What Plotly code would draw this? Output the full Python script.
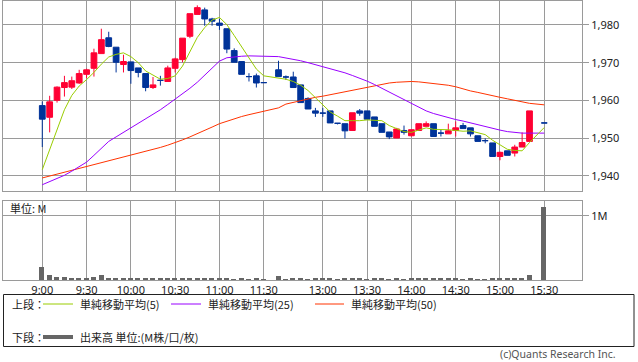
import plotly.graph_objects as go

# 5-minute slot index (9:00 = 0, lunch compressed; 31 and 67 have no trades)
slots = list(range(0, 31)) + list(range(32, 67)) + [68]

opens = [1958.6, 1955.5, 1960.0, 1963.4, 1963.5, 1964.6, 1966.9, 1968.5, 1972.4, 1976.6,
         1974.1, 1969.5, 1970.2, 1968.6, 1967.1, 1963.4, 1965.3, 1965.0, 1968.5, 1970.8,
         1977.0, 1982.8, 1984.0, 1981.6, 1980.5, 1979.0, 1973.2, 1970.3, 1966.3, 1966.5,
         1964.7,
         1968.1, 1966.2, 1966.2, 1964.1, 1960.5, 1957.2, 1956.6, 1957.2, 1953.9, 1953.8,
         1952.0, 1957.2, 1957.2, 1955.6, 1953.8, 1951.6, 1950.0, 1952.0, 1950.6, 1952.0,
         1953.1, 1953.8, 1951.3, 1951.1, 1952.0, 1953.3, 1952.7, 1950.6, 1949.3, 1948.7,
         1945.1, 1946.6, 1946.0, 1947.6, 1949.1,
         1954.0]
highs = [1959.7, 1961.2, 1963.7, 1966.5, 1966.3, 1968.1, 1968.4, 1973.7, 1979.0, 1978.2,
         1974.1, 1972.1, 1970.2, 1968.6, 1967.1, 1966.2, 1966.5, 1969.2, 1971.3, 1976.5,
         1983.0, 1985.2, 1984.6, 1981.9, 1981.6, 1979.0, 1973.8, 1970.3, 1967.2, 1967.1,
         1964.7,
         1970.5, 1966.6, 1967.6, 1964.1, 1960.8, 1958.0, 1958.0, 1957.2, 1953.9, 1953.8,
         1956.7, 1957.7, 1957.2, 1955.6, 1953.8, 1951.6, 1952.7, 1953.3, 1952.2, 1953.8,
         1954.4, 1953.8, 1952.2, 1953.8, 1954.4, 1954.0, 1952.7, 1950.6, 1949.9, 1948.7,
         1946.4, 1946.6, 1948.2, 1951.5, 1957.2,
         1954.0]
lows = [1947.6, 1951.5, 1959.4, 1961.0, 1963.0, 1964.4, 1965.9, 1966.3, 1972.4, 1974.1,
        1967.4, 1967.4, 1964.4, 1966.1, 1962.4, 1963.0, 1963.9, 1965.0, 1967.4, 1970.1,
        1976.5, 1982.8, 1979.8, 1979.8, 1978.7, 1972.5, 1970.1, 1966.9, 1965.0, 1963.4,
        1964.7,
        1966.3, 1965.4, 1963.4, 1959.4, 1957.7, 1955.6, 1955.6, 1954.0, 1953.6, 1949.9,
        1952.0, 1955.9, 1955.0, 1953.1, 1951.5, 1949.7, 1950.0, 1950.9, 1950.4, 1952.0,
        1953.1, 1950.4, 1950.4, 1951.1, 1950.4, 1952.5, 1950.4, 1949.1, 1948.6, 1945.1,
        1944.1, 1945.4, 1945.1, 1947.6, 1949.1,
        1954.0]
closes = [1955.0, 1959.6, 1963.5, 1964.7, 1965.2, 1967.1, 1968.1, 1972.6, 1976.1, 1974.3,
          1970.1, 1970.3, 1967.9, 1967.4, 1963.4, 1964.1, 1965.3, 1968.6, 1971.0, 1976.5,
          1983.0, 1984.6, 1981.6, 1981.0, 1979.9, 1973.6, 1970.1, 1966.9, 1966.3, 1964.6,
          1964.7,
          1966.3, 1966.2, 1963.4, 1959.4, 1957.7, 1956.6, 1956.6, 1954.0, 1953.9, 1951.9,
          1956.7, 1956.6, 1955.0, 1953.1, 1951.5, 1950.3, 1952.4, 1951.5, 1952.2, 1953.8,
          1953.8, 1950.4, 1951.3, 1951.9, 1952.7, 1952.5, 1951.1, 1949.1, 1949.3, 1945.1,
          1946.2, 1945.4, 1947.6, 1948.8, 1957.2,
          1954.0]
volumes_m = [0.208, 0.078, 0.052, 0.047, 0.031, 0.031, 0.016, 0.047, 0.078, 0.016,
             0.016, 0.031, 0.031, 0.016, 0.016, 0.016, 0.016, 0.016, 0.016, 0.016,
             0.031, 0.016, 0.016, 0.016, 0.016, 0.016, 0.005, 0.016, 0.005, 0.016,
             0.005,
             0.062, 0.005, 0.016, 0.016, 0.005, 0.016, 0.016, 0.016, 0.005, 0.031,
             0.016, 0.016, 0.005, 0.016, 0.016, 0.005, 0.016, 0.005, 0.016, 0.016,
             0.016, 0.031, 0.016, 0.016, 0.016, 0.005, 0.016, 0.005, 0.005, 0.031,
             0.031, 0.016, 0.031, 0.031, 0.078,
             1.14]
ma5 = [1941.6, 1946.9, 1952.7, 1957.5, 1961.3, 1963.8, 1965.5, 1967.4, 1969.6, 1971.5,
       1972.2, 1972.6, 1971.6, 1970.0, 1967.8, 1966.6, 1965.6, 1965.8, 1966.5, 1969.1,
       1972.9, 1976.7, 1979.3, 1981.3, 1982.0, 1980.1, 1977.2, 1974.3, 1971.4, 1968.3,
       1966.5,
       1965.8, 1965.6, 1965.0, 1964.0, 1962.6, 1960.7, 1958.7, 1956.9, 1955.8, 1954.6,
       1954.6, 1954.6, 1954.8, 1954.7, 1954.6, 1953.3, 1952.4, 1951.7, 1951.5, 1952.0,
       1952.7, 1952.3, 1952.3, 1952.2, 1952.0, 1951.8, 1951.9, 1951.5, 1950.9, 1949.4,
       1948.2, 1947.0, 1946.7, 1946.6, 1948.8,
       1952.8]
ma25 = [1937.6, 1938.4, 1939.3, 1940.1, 1941.2, 1942.4, 1943.6, 1945.4, 1947.3, 1949.1,
        1950.3, 1951.5, 1952.7, 1953.8, 1955.0, 1956.2, 1957.5, 1958.9, 1960.3, 1961.6,
        1963.2, 1964.8, 1966.6, 1968.6, 1970.4, 1971.3, 1971.6, 1971.7, 1971.8, 1971.8,
        1971.7,
        1971.6, 1971.3, 1970.9, 1970.5, 1970.0, 1969.5, 1969.0, 1968.5, 1967.9, 1967.3,
        1966.6, 1965.9, 1965.1, 1964.2, 1963.2, 1962.2, 1961.2, 1960.1, 1959.0, 1958.1,
        1957.2, 1956.5, 1955.9, 1955.4, 1954.9, 1954.5, 1954.0, 1953.5, 1953.0, 1952.5,
        1952.1, 1951.7, 1951.5, 1951.3, 1951.3,
        1951.3]
ma50 = [1939.4, 1939.9, 1940.4, 1940.9, 1941.4, 1941.9, 1942.4, 1942.9, 1943.4, 1943.9,
        1944.4, 1944.9, 1945.4, 1945.9, 1946.4, 1946.9, 1947.5, 1948.1, 1948.7, 1949.5,
        1950.3, 1951.1, 1952.0, 1952.9, 1953.8, 1954.5, 1955.1, 1955.7, 1956.2, 1956.7,
        1957.1,
        1958.0, 1959.0, 1959.5, 1960.0, 1960.5, 1960.8, 1961.1, 1961.5, 1961.9, 1962.3,
        1962.7, 1963.1, 1963.6, 1964.0, 1964.3, 1964.6, 1964.8, 1965.0, 1965.0, 1964.9,
        1964.7, 1964.5, 1964.3, 1964.0, 1963.6, 1963.0, 1962.5, 1962.1, 1961.6, 1961.1,
        1960.8, 1960.4, 1960.0, 1959.6, 1959.2,
        1958.8]

tick_slots = [0, 6, 12, 18, 24, 30, 38, 44, 50, 56, 62, 68]
tick_labels = ["9:00", "9:30", "10:00", "10:30", "11:00", "11:30",
               "13:00", "13:30", "14:00", "14:30", "15:00", "15:30"]
price_ticks = [1940, 1950, 1960, 1970, 1980]

RED = "#ff0033"
BLUE = "#003399"
GRID = "#9a9a9a"
W, H = 638, 362

def px_x(p):
    return p / W

def px_y(p):
    return (H - p) / H

up = [i for i in range(len(slots)) if closes[i] > opens[i]]
dn = [i for i in range(len(slots)) if closes[i] <= opens[i]]

def pick(arr, idx):
    return [arr[i] for i in idx]

fig = go.Figure()
for idx, col in ((up, RED), (dn, BLUE)):
    fig.add_trace(go.Candlestick(
        x=pick(slots, idx), open=pick(opens, idx), high=pick(highs, idx),
        low=pick(lows, idx), close=pick(closes, idx),
        increasing=dict(line=dict(color=col, width=1), fillcolor=col),
        decreasing=dict(line=dict(color=col, width=1), fillcolor=col),
        whiskerwidth=0, showlegend=False, hoverinfo="skip",
        xaxis="x", yaxis="y"))

for vals, col in ((ma50, "#ff3300"), (ma25, "#9900ff"), (ma5, "#99cc00")):
    fig.add_trace(go.Scatter(x=slots, y=vals, mode="lines",
                             line=dict(color=col, width=1),
                             showlegend=False, hoverinfo="skip",
                             xaxis="x", yaxis="y"))

fig.add_trace(go.Bar(x=slots, y=volumes_m, marker=dict(color="#666666", line=dict(width=0)),
                     width=0.68, showlegend=False, hoverinfo="skip",
                     xaxis="x2", yaxis="y2"))

xr = [-5.28, 73.11]
xdom = [px_x(3.3), px_x(582)]
tickfont = dict(family="Noto Sans", size=11, color="#222222")

common_x = dict(range=xr, domain=xdom, showgrid=True, gridcolor=GRID, gridwidth=1,
                tickvals=tick_slots, ticktext=tick_labels, zeroline=False,
                showline=True, mirror=True, linecolor=GRID, linewidth=1,
                fixedrange=True)

fig.update_layout(
    width=W, height=H,
    margin=dict(l=0, r=0, t=0, b=0),
    paper_bgcolor="white", plot_bgcolor="white",
    boxmode="overlay", boxgap=0.22, boxgroupgap=0,
    bargap=0,
    font=dict(family="Noto Sans CJK JP", size=11, color="#222222"),
    xaxis=dict(**common_x, anchor="y", showticklabels=False,
               rangeslider=dict(visible=False)),
    yaxis=dict(domain=[px_y(190.5), px_y(1)], range=[1936.07, 1986.36],
               side="right", anchor="x", tickvals=price_ticks, tickformat=",",
               showgrid=True, gridcolor=GRID, zeroline=False,
               showline=True, mirror=True, linecolor=GRID,
               ticks="outside", ticklen=6, tickcolor=GRID, tickfont=tickfont,
               fixedrange=True),
    xaxis2=dict(**common_x, anchor="y2", showticklabels=True, ticks="",
                tickfont=tickfont, matches="x"),
    yaxis2=dict(domain=[px_y(280), px_y(201)], range=[0, 1.234],
                side="right", anchor="x2", tickvals=[1], ticktext=["1M"],
                showgrid=True, gridcolor=GRID, zeroline=False,
                showline=True, mirror=True, linecolor=GRID,
                ticks="outside", ticklen=6, tickcolor=GRID, tickfont=tickfont,
                fixedrange=True),
)

# Panel caption
fig.add_annotation(x=px_x(8), y=px_y(208), xref="paper", yref="paper",
                   text="単位: M", showarrow=False, xanchor="left", yanchor="middle",
                   font=dict(family="Noto Sans CJK JP", size=11, color="#222222"))

# Legend box
fig.add_shape(type="rect", xref="paper", yref="paper",
              x0=px_x(3.5), x1=px_x(634), y0=px_y(346.5), y1=px_y(294.5),
              line=dict(color="#222222", width=1), fillcolor="rgba(0,0,0,0)")

row1, row2 = 304, 337
legend_font = dict(family="Noto Sans CJK JP", size=11, color="#222222")
fig.add_annotation(x=px_x(10), y=px_y(row1), xref="paper", yref="paper", text="上段：",
                   showarrow=False, xanchor="left", yanchor="middle", font=legend_font)
fig.add_annotation(x=px_x(10), y=px_y(row2), xref="paper", yref="paper", text="下段：",
                   showarrow=False, xanchor="left", yanchor="middle", font=legend_font)
legend_items = [(43, 73, 78, "#99cc00", "単純移動平均(5)"),
                (171, 201, 206, "#9900ff", "単純移動平均(25)"),
                (315, 344, 349, "#ff3300", "単純移動平均(50)")]
for lx0, lx1, tx, col, label in legend_items:
    fig.add_shape(type="line", xref="paper", yref="paper",
                  x0=px_x(lx0), x1=px_x(lx1), y0=px_y(row1), y1=px_y(row1),
                  line=dict(color=col, width=1))
    fig.add_annotation(x=px_x(tx), y=px_y(row1), xref="paper", yref="paper", text=label,
                       showarrow=False, xanchor="left", yanchor="middle", font=legend_font)
fig.add_shape(type="line", xref="paper", yref="paper",
              x0=px_x(43), x1=px_x(73), y0=px_y(row2), y1=px_y(row2),
              line=dict(color="#666666", width=4))
fig.add_annotation(x=px_x(78), y=px_y(row2), xref="paper", yref="paper",
                   text="出来高 単位:(M株/口/枚)",
                   showarrow=False, xanchor="left", yanchor="middle", font=legend_font)

fig.add_annotation(x=px_x(618), y=px_y(354), xref="paper", yref="paper",
                   text="(c)Quants Research Inc.", showarrow=False,
                   xanchor="right", yanchor="middle",
                   font=dict(family="Noto Sans", size=10.5, color="#555555"))

fig.write_html("out.html",
               config={"displayModeBar": False},
               post_script="document.body.style.margin='0';document.body.style.overflow='hidden';")
